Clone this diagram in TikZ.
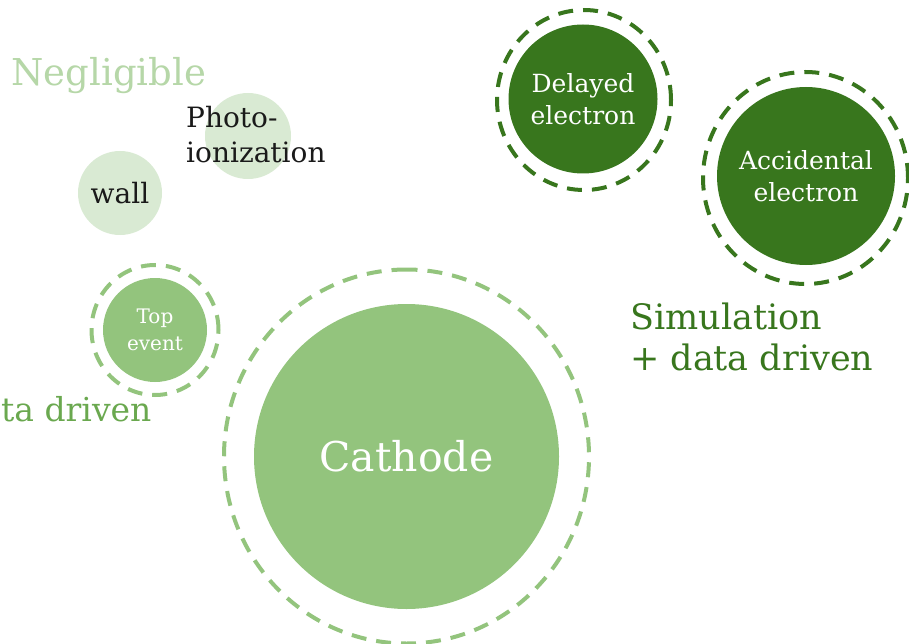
\documentclass[tikz,border=0pt]{standalone}
\usepackage{fontspec}
\setmainfont{DejaVu Serif}
\definecolor{gdark}{HTML}{38761D}
\definecolor{gmid}{HTML}{93C47D}
\definecolor{glight}{HTML}{D9EAD3}
\definecolor{gtextlight}{HTML}{B6D7A8}
\definecolor{gtextmid}{HTML}{6AA84F}
\definecolor{ink}{HTML}{1A1A1A}
\tikzset{
  bubble/.style={circle, inner sep=0pt, align=center},
  ring/.style={line width=4pt, dash pattern=on 15pt off 10pt},
  fs/.style 2 args={font=\fontsize{#1}{#2}\selectfont}
}
\begin{document}
\begin{tikzpicture}[x=1pt,y=-1pt]
\useasboundingbox (0,0) rectangle (909,644);
% negligible group
\node[anchor=west, text=gtextlight, fs={37}{44}] (negl) at (8,76) {Negligible};
\node[bubble, fill=glight, minimum size=86pt] (photoc) at (248,136) {};
\node[anchor=west, align=left, text=ink, fs={28}{35}, inner sep=0pt] (photot) at (186,135) {Photo-\\ionization};
\node[bubble, fill=glight, minimum size=84pt, text=ink, fs={28}{33}] (wall) at (120,193) {wall};
% top event
\node[bubble, fill=gmid, minimum size=104pt, text=white, fs={20}{27}] (top) at (155,330) {Top\\event};
\draw[ring, gmid] (top.center) ellipse[x radius=63.5pt, y radius=65pt];
\node[anchor=west, text=gtextmid, fs={33}{40}, inner sep=0pt] (datal) at (1,409) {ta driven};
% cathode
\node[bubble, fill=gmid, minimum size=305pt, text=white, fs={41}{50}] (cath) at (406.5,456.5) {Cathode};
\draw[ring, gmid, rotate around={90:(cath.center)}] (cath.center) ellipse[x radius=187pt, y radius=182.5pt];
% electrons
\node[bubble, fill=gdark, minimum size=149pt, text=white, fs={25}{32}] (delay) at (583,99) {Delayed\\electron};
\draw[ring, gdark] (584,100) ellipse[x radius=87pt, y radius=90pt];
\node[bubble, fill=gdark, minimum size=178pt, text=white, fs={25}{32}] (acc) at (806,176) {Accidental\\electron};
\draw[ring, gdark] (805.5,178) ellipse[x radius=102.5pt, y radius=106pt];
\node[anchor=north west, align=left, text=gdark, fs={35}{41}, inner sep=0pt] (sim) at (630,303) {Simulation\\+ data driven};
\end{tikzpicture}
\end{document}
